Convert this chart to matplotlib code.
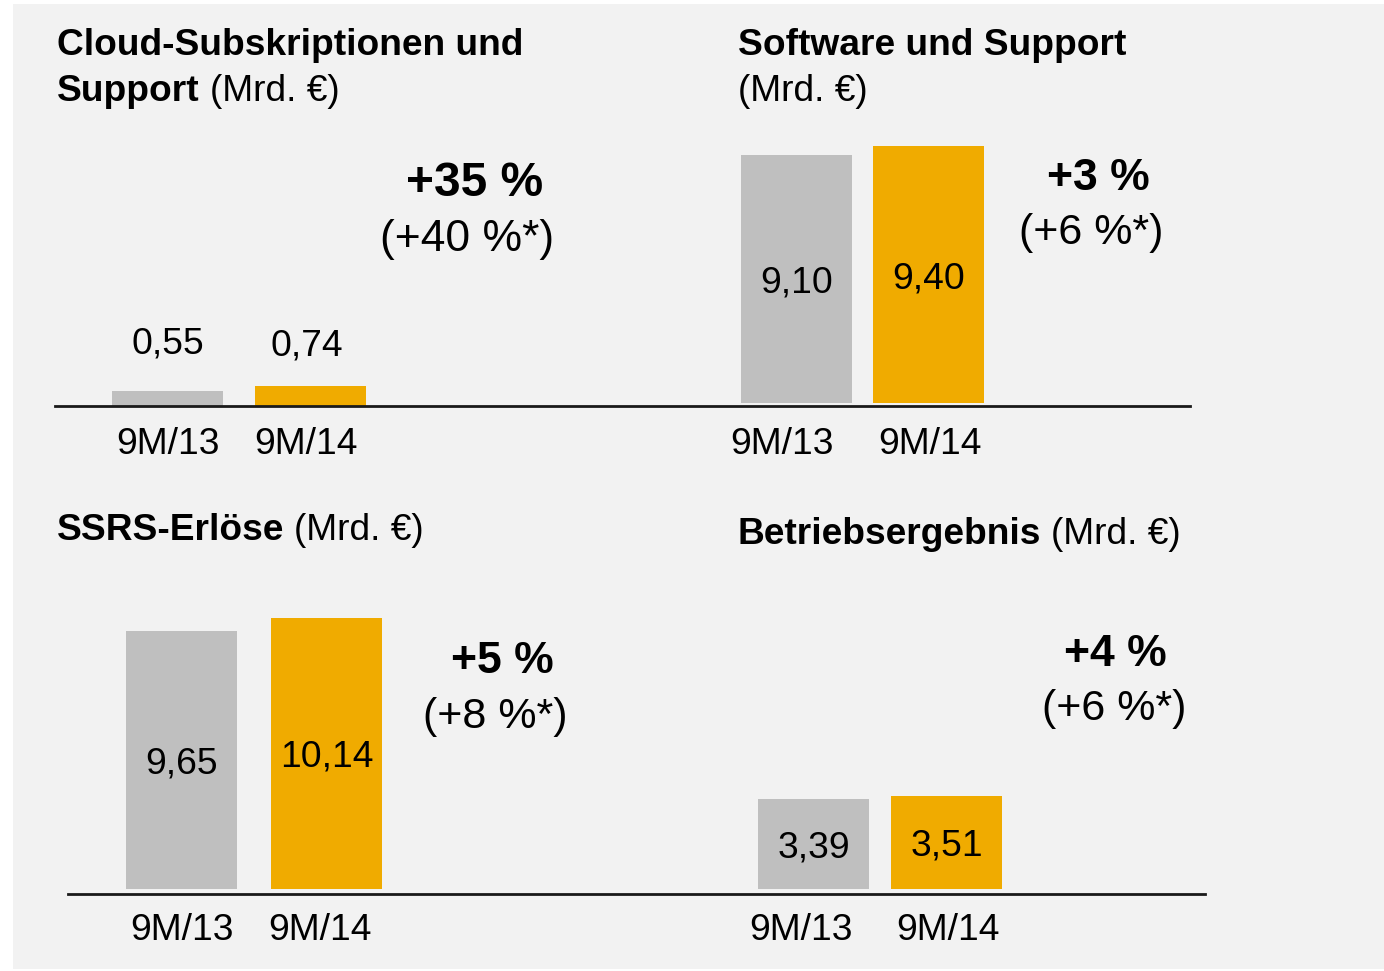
import matplotlib
matplotlib.use("Agg")
import matplotlib.pyplot as plt
from matplotlib.patches import Rectangle
from matplotlib.lines import Line2D
from matplotlib.transforms import ScaledTranslation

plt.rcParams['font.family'] = ['Liberation Sans', 'DejaVu Sans']

# ---------------- data ----------------
categories = ["9M/13", "9M/14"]
cloud_values = [0.55, 0.74]
software_values = [9.10, 9.40]
ssrs_values = [9.65, 10.14]
operating_values = [3.39, 3.51]

growth = ["+35 %", "+3 %", "+5 %", "+4 %"]
growth_fx = ["(+40 %*)", "(+6 %*)", "(+8 %*)", "(+6 %*)"]

title_lines = [
    [[("Cloud-Subskriptionen und", True)], [("Support", True), ("(Mrd. €)", False)]],
    [[("Software und Support", True)], [("(Mrd. €)", False)]],
    [[("SSRS-Erlöse", True), ("(Mrd. €)", False)]],
    [[("Betriebsergebnis", True), ("(Mrd. €)", False)]],
]

series = [cloud_values, software_values, ssrs_values, operating_values]
bar_colors = ["#bfbfbf", "#f0ab00"]

# ---------------- layout (pixels) ----------------
W, H = 1384, 971
def fx(x): return x / W
def fy(y): return 1 - y / H

panels = [
    dict(c=(167.5, 310.5), yb=406.0, s=27.5, inside=False, title=(57, 55), tbase=46,
         g=(475, 184), gf=(467, 240), gsize=34.5, gfsize=32,
         tick_dx=(0, -5), pad=15, lab_dy=(27, 21.5), lab_dx=(0, -4)),
    dict(c=(796.5, 928.5), yb=403.0, s=27.3, inside=True, title=(738, 55), tbase=46,
         g=(1098, 178), gf=(1091, 233), gsize=32, gfsize=31,
         tick_dx=(-14, 1), pad=17.5, lab_dy=(0, 0), lab_dx=(0, 0)),
    dict(c=(181.5, 326.5), yb=888.5, s=26.7, inside=True, title=(57, 540), tbase=46,
         g=(502, 661), gf=(495, 717), gsize=32, gfsize=31,
         tick_dx=(0, -7), pad=17.5, lab_dy=(0, 0), lab_dx=(0, 0)),
    dict(c=(813.5, 946.5), yb=889.0, s=26.6, inside=True, title=(738, 544), tbase=46,
         g=(1115, 655), gf=(1114, 709), gsize=32, gfsize=31,
         tick_dx=(-13, 1), pad=17.5, lab_dy=(0, 0), lab_dx=(0, 0)),
]
BW = 111.0
AX_H = 320.0

fig = plt.figure(figsize=(W / 100, H / 100), dpi=100)
fig.patch.set_facecolor("white")
fig.patches.append(Rectangle((fx(13), fy(969)), fx(1384) - fx(13), fy(4) - fy(969),
                             transform=fig.transFigure, facecolor="#f2f2f2",
                             edgecolor="none", zorder=-5))

# baselines
for (x0, x1, y) in [(55, 1190, 406.3), (68, 1205, 893.8)]:
    fig.lines.append(Line2D([fx(x0), fx(x1)], [fy(y), fy(y)], transform=fig.transFigure,
                            color="#1a1a1a", lw=2.0, zorder=5))

renderer = fig.canvas.get_renderer()
TITLE_SIZE = 26.7
VAL_SIZE = 26.8

for p, vals, tl, g, gf in zip(panels, series, title_lines, growth, growth_fx):
    c0, c1 = p["c"]
    w = BW / (c1 - c0)
    left = c0 - BW / 2
    right = c1 + BW / 2
    ax = fig.add_axes([fx(left), fy(p["yb"]), (right - left) / W, AX_H / H])
    ax.set_xlim(-w / 2, 1 + w / 2)
    ax.set_ylim(0, AX_H / p["s"])
    ax.patch.set_visible(False)
    for sp in ax.spines.values():
        sp.set_visible(False)
    x = [0, 1]
    ax.bar(x, vals, width=w, color=bar_colors, zorder=3)
    ax.set_yticks([])
    ax.set_xticks(x)
    ax.set_xticklabels(categories, fontsize=VAL_SIZE)
    ax.tick_params(axis="x", length=0, pad=p["pad"])
    for lbl, dx in zip(ax.get_xticklabels(), p["tick_dx"]):
        lbl.set_transform(lbl.get_transform() + ScaledTranslation(dx / 100, 0, fig.dpi_scale_trans))
    for i, (xi, v) in enumerate(zip(x, vals)):
        lab = f"{v:.2f}".replace(".", ",")
        if p["inside"]:
            ax.text(xi, v / 2, lab, ha="center", va="center_baseline", fontsize=VAL_SIZE, zorder=4)
        else:
            ax.annotate(lab, (xi, v), xytext=(p["lab_dx"][i] * 0.72, p["lab_dy"][i]),
                        textcoords="offset points",
                        ha="center", va="baseline", fontsize=VAL_SIZE)
    # growth annotations
    fig.text(fx(p["g"][0]), fy(p["g"][1]), g, ha="center", va="center",
             fontsize=p["gsize"], fontweight="bold")
    fig.text(fx(p["gf"][0]), fy(p["gf"][1]), gf, ha="center", va="center",
             fontsize=p["gfsize"])
    # titles
    tx, ty = p["title"]
    for li, line in enumerate(tl):
        xcur = tx
        ycur = ty + li * p["tbase"]
        for txt, bold in line:
            t = fig.text(fx(xcur), fy(ycur), txt, ha="left", va="baseline",
                         fontsize=TITLE_SIZE, fontweight="bold" if bold else "normal")
            bb = t.get_window_extent(renderer=renderer)
            xcur = xcur + bb.width + 10

fig.savefig("out.png", dpi=100, facecolor="white")
